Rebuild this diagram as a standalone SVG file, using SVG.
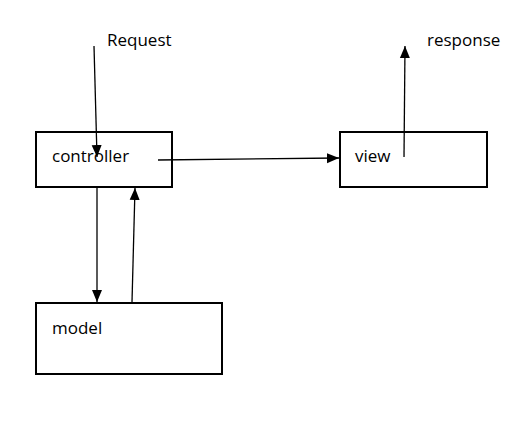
<svg xmlns="http://www.w3.org/2000/svg" width="530" height="432" viewBox="0 0 530 432">
<style>
.box{fill:#fff;stroke:#000;stroke-width:2}
.lbl{font-family:"Open Sans","Liberation Sans",Arial,sans-serif;font-size:17px;fill:#000}
.con{stroke:#000;stroke-width:1.3;fill:none;marker-end:url(#ah)}
</style>
<defs>
<marker id="ah" markerUnits="userSpaceOnUse" markerWidth="12" markerHeight="12" viewBox="0 0 12 10" refX="12" refY="5" orient="auto">
<path d="M0,0 L12,5 L0,10 Z" fill="#000"/>
</marker>
</defs>
<rect width="530" height="432" fill="#fff"/>
<g id="controller"><rect class="box" x="36" y="132" width="136" height="55"/><text class="lbl" x="52" y="162">controller</text></g>
<g id="view"><rect class="box" x="340" y="132" width="147" height="55"/><text class="lbl" x="355" y="162">view</text></g>
<g id="model"><rect class="box" x="36" y="303" width="186" height="71"/><text class="lbl" x="52" y="334">model</text></g>
<g id="request"><text class="lbl" x="107" y="46">Request</text></g>
<g id="response"><text class="lbl" x="427" y="46">response</text></g>
<g id="connectors">
<line class="con" x1="94" y1="46" x2="97" y2="157"/>
<line class="con" x1="158" y1="160" x2="339" y2="158"/>
<line class="con" x1="404" y1="157" x2="405" y2="46"/>
<line class="con" x1="97" y1="187" x2="97" y2="302"/>
<line class="con" x1="132" y1="302" x2="135" y2="188"/>
</g>
</svg>
